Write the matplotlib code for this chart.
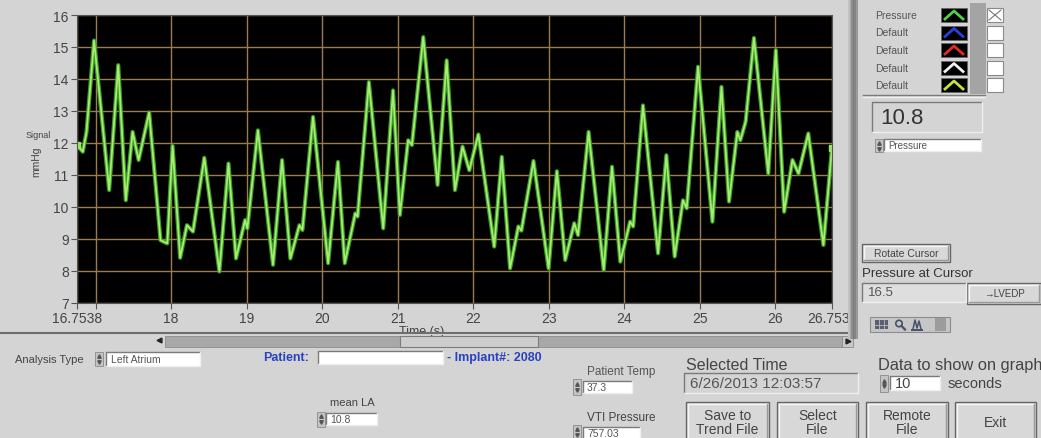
import matplotlib

matplotlib.use("Agg")
import matplotlib.pyplot as plt
from matplotlib.patches import Circle, Rectangle

plt.rcParams["font.family"] = ["Liberation Sans", "DejaVu Sans"]

# pressure trace (time in s, pressure in mmHg)
time_s = [
    16.754, 16.83, 16.88, 16.98, 17.18, 17.30, 17.40, 17.49, 17.57, 17.71,
    17.86, 17.95, 18.02, 18.12, 18.21, 18.29, 18.44, 18.64, 18.76, 18.86,
    18.98, 19.01, 19.15, 19.35, 19.47, 19.58, 19.70, 19.74, 19.88, 20.08,
    20.21, 20.30, 20.44, 20.47, 20.62, 20.81, 20.94, 21.03, 21.14, 21.19,
    21.34, 21.53, 21.65, 21.76, 21.86, 21.95, 22.07, 22.28, 22.38, 22.49,
    22.60, 22.64, 22.80, 23.00, 23.11, 23.22, 23.34, 23.39, 23.53, 23.73,
    23.84, 23.95, 24.08, 24.12, 24.25, 24.45, 24.56, 24.67, 24.78, 24.83,
    24.98, 25.17, 25.29, 25.39, 25.50, 25.54, 25.61, 25.72, 25.91, 26.01,
    26.12, 26.23, 26.31, 26.44, 26.64, 26.754,
]
pressure = [
    11.93, 11.72, 12.34, 15.20, 10.52, 14.43, 10.20, 12.34, 11.46, 12.95,
    8.95, 8.85, 11.90, 8.40, 9.42, 9.22, 11.53, 7.97, 11.35, 8.38,
    9.58, 9.32, 12.39, 8.18, 11.46, 8.38, 9.42, 9.27, 12.81, 8.23,
    11.40, 8.23, 9.79, 9.69, 13.90, 9.32, 13.64, 9.74, 12.08, 11.93,
    15.31, 10.68, 14.58, 10.52, 11.88, 11.14, 12.26, 8.75, 11.56, 8.07,
    9.38, 9.25, 11.43, 8.07, 11.11, 8.33, 9.48, 9.11, 12.34, 8.02,
    11.25, 8.28, 9.53, 9.38, 13.17, 8.54, 11.61, 8.44, 10.20, 9.95,
    14.38, 9.53, 13.75, 10.16, 12.34, 12.08, 12.66, 15.28, 11.04, 14.90,
    9.84, 11.46, 11.04, 12.29, 8.80, 11.85,
]
x_ticks = [16.7538, 17, 18, 19, 20, 21, 22, 23, 24, 25, 26, 26.7538]
x_tick_labels = ["16.7538", "", "18", "19", "20", "21", "22", "23", "24", "25", "26", "26.7538"]
y_ticks = [7, 8, 9, 10, 11, 12, 13, 14, 15, 16]

legend_names = ["Pressure", "Default", "Default", "Default", "Default"]
legend_colors = ["#4fd04a", "#2b3fe0", "#e02b2b", "#f2f2f2", "#c8e03a"]
button_labels = ["Save to\nTrend File", "Select\nFile", "Remote\nFile", "Exit"]

W, H = 1041, 439
BG = "#d4d4d4"
TXT = "#444444"


def frac(x0, y0, x1, y1):
    return [x0 / W, 1 - y1 / H, (x1 - x0) / W, (y1 - y0) / H]


fig = plt.figure(figsize=(W / 100, H / 100), dpi=100, facecolor=BG)

# ---- graph
ax = fig.add_axes(frac(77, 16, 832, 303.5), facecolor="black")
ax.set_zorder(1)
ax.plot(time_s, pressure, color="#3c9a2a", lw=3.0, solid_joinstyle="round")
ax.plot(time_s, pressure, color="#a6ee70", lw=1.3, solid_joinstyle="round")
ax.plot([time_s[0], time_s[-1]], [pressure[0], pressure[-1]], "s", ms=4, color="#9be860")
ax.set_xlim(16.7538, 26.7538)
ax.set_ylim(7, 16)
ax.set_xticks(x_ticks, x_tick_labels)
ax.set_yticks(y_ticks)
ax.grid(True, color="#9c7c4c", lw=1)
ax.set_axisbelow(True)
ax.tick_params(colors="#555555", labelcolor=TXT, labelsize=10, length=4, width=0.8, pad=2)
for spine in ax.spines.values():
    spine.set_color("#555555")

# ---- everything else is drawn in pixel coordinates on top
ov = fig.add_axes([0, 0, 1, 1])
ov.set_zorder(2)
ov.set_xlim(0, W)
ov.set_ylim(H, 0)
ov.axis("off")
ov.patch.set_alpha(0)


def rect(x0, y0, x1, y1, fc, ec="none", lw=0.8, z=3):
    ov.add_patch(Rectangle((x0, y0), x1 - x0, y1 - y0, fc=fc, ec=ec, lw=lw, zorder=z))


def sunken(x0, y0, x1, y1, fc="white"):
    rect(x0, y0, x1, y1, fc)
    ov.plot([x0, x0, x1], [y1, y0, y0], color="#7a7a7a", lw=1, zorder=4)
    ov.plot([x0, x1, x1], [y1, y1, y0], color="#efefef", lw=1, zorder=4)


def button(x0, y0, x1, y1, label, size):
    rect(x0, y0, x1, y1, "#d8d8d8", "#666666", 1)
    ov.plot([x0 + 2, x0 + 2, x1 - 2], [y1 - 2, y0 + 2, y0 + 2], color="#f6f6f6", lw=1, zorder=4)
    ov.plot([x0 + 2, x1 - 2, x1 - 2], [y1 - 2, y1 - 2, y0 + 2], color="#9a9a9a", lw=1, zorder=4)
    ov.text((x0 + x1) / 2, (y0 + y1) / 2, label, ha="center", va="center", fontsize=size,
            color=TXT, linespacing=1.0, zorder=5)


def spinner(x, y0, y1):
    rect(x, y0, x + 8, y1, "#c4c4c4", "#8a8a8a", 0.6)
    ym = (y0 + y1) / 2
    ov.plot(x + 4, ym - 3, "^", ms=2.5, color="#555555", zorder=5)
    ov.plot(x + 4, ym + 3, "v", ms=2.5, color="#555555", zorder=5)


# axis labels
ov.text(38, 136, "Signal", fontsize=6.5, color=TXT, ha="center", va="center")
ov.text(36, 162, "mmHg", fontsize=7.5, color=TXT, ha="center", va="center", rotation=90)
ov.text(422, 332, "Time (s)", fontsize=9, color=TXT, ha="center", va="center", zorder=2)

# separator line and scrollbar
rect(0, 333.5, 850, 336, BG)
ov.plot([0, 850], [334, 334], color="#6e6e6e", lw=1.5, zorder=4)
rect(165, 336.5, 845, 347.5, "#a8a8a8", "#8c8c8c", 0.6)
rect(400, 336.5, 538, 347.5, "#cdcdcd", "#7c7c7c", 0.8)
ov.plot(159, 341, "<", ms=3.5, color="#222222", zorder=5)
rect(842, 336.5, 853, 347.5, "#c8c8c8", "#8c8c8c", 0.6)
ov.plot(848, 342, ">", ms=3.5, color="#222222", zorder=6)

# vertical panel divider
for i, c in enumerate(["#c0c0c0", "#a8a8a8", "#8e8e8e", "#7c7c7c", "#848484", "#9a9a9a"]):
    rect(848 + i * 1.6, 0, 849.6 + i * 1.6, 340, c, z=5)

# plot legend
rect(970, 4, 986, 95, "#a4a4a4")
for i, (name, col) in enumerate(zip(legend_names, legend_colors)):
    y = 16 + i * 17.5
    ov.text(875, y, name, fontsize=7.5, color="#555555", va="center")
    rect(941, y - 7, 967, y + 7, "black", "#666666", 0.6)
    ov.plot([945, 954, 963], [y + 4, y - 4, y + 4], color=col, lw=2, zorder=4)
    rect(987, y - 7, 1003, y + 7, "white", "#8a8a8a", 0.8)
    if i == 0:
        ov.plot([989, 1001], [y - 5, y + 5], color="#777777", lw=0.8, zorder=5)
        ov.plot([989, 1001], [y + 5, y - 5], color="#777777", lw=0.8, zorder=5)
ov.plot([863, 985], [96, 96], color="#7a7a7a", lw=1)
ov.plot([863, 985], [97.5, 97.5], color="#f0f0f0", lw=1)

# value readout
sunken(872, 103, 982, 133, BG)
ov.text(880, 119, "10.8", fontsize=16, color="#333333", va="center", zorder=5)
spinner(875, 140, 153)
sunken(884, 140, 981, 152)
ov.text(888, 146, "Pressure", fontsize=7, color="#555555", va="center", zorder=5)

# cursor controls
button(862, 245, 950, 263, "Rotate Cursor", 7.5)
ov.text(862, 274, "Pressure at Cursor", fontsize=9.5, color="#333333", va="center")
sunken(862, 284, 966, 303, "#dedede")
ov.text(868, 293, "16.5", fontsize=9.5, color="#555555", va="center", zorder=5)
button(967, 284, 1041, 305, "\u2192LVEDP", 7)

# graph palette (grid, zoom and pan icons)
rect(870, 318, 950, 333, "#c6c6c6", "#8c8c8c", 0.8)
rect(875, 321, 888, 330, "#5a6070")
for gx in (879, 883.5):
    ov.plot([gx, gx], [321, 330], color="#b8bcc8", lw=0.6, zorder=4)
ov.plot([875, 888], [325.5, 325.5], color="#b8bcc8", lw=0.6, zorder=4)
ov.add_patch(Circle((899, 324.5), 3.2, fc="none", ec="#46506a", lw=1.2, zorder=4))
ov.plot([901.5, 905], [327, 330.5], color="#46506a", lw=1.6, zorder=4)
ov.plot([913, 915, 917, 919, 921], [330, 321, 329, 322, 330], color="#46506a", lw=1.1, zorder=4)
ov.plot([912, 922], [330.5, 330.5], color="#46506a", lw=1.4, zorder=4)
rect(935, 319, 946, 332, "#9c9c9c")

# bottom controls
ov.text(15, 360, "Analysis Type", fontsize=8, color=TXT, va="center")
spinner(95, 353, 367)
sunken(106, 353, 200, 367)
ov.text(111, 360, "Left Atrium", fontsize=7.5, color="#555555", va="center", zorder=5)

ov.text(263, 358, "Patient:", fontsize=9, color="#2a42c0", weight="bold", va="center")
sunken(318, 352, 443, 365)
ov.text(447, 358, "- Implant#: 2080", fontsize=9, color="#2a42c0", weight="bold", va="center")

ov.text(352, 403, "mean LA", fontsize=8, color=TXT, ha="center", va="center")
spinner(317, 413, 428)
sunken(326, 414, 377, 426)
ov.text(330, 420, "10.8", fontsize=7.5, color="#555555", va="center", zorder=5)

ov.text(621, 372, "Patient Temp", fontsize=8.5, color="#555555", ha="center", va="center")
spinner(573, 380, 396)
sunken(583, 382, 632, 394)
ov.text(587, 388, "37.3", fontsize=7.5, color="#555555", va="center", zorder=5)

ov.text(621, 418, "VTI Pressure", fontsize=8.5, color=TXT, ha="center", va="center")
spinner(573, 426, 440)
sunken(583, 428, 640, 440)
ov.text(587, 434, "757.03", fontsize=7.5, color="#555555", va="center", zorder=5)

ov.text(686, 366, "Selected Time", fontsize=11.5, color=TXT, va="center")
sunken(684, 374, 858, 394, BG)
ov.text(690, 384, "6/26/2013 12:03:57", fontsize=11, color="#555555", va="center", zorder=5)

ov.text(878, 366, "Data to show on graph", fontsize=11.8, color=TXT, va="center")
spinner(880, 376, 393)
sunken(890, 377, 940, 391)
ov.text(895, 384, "10", fontsize=10.5, color="#444444", va="center", zorder=5)
ov.text(948, 384, "seconds", fontsize=10.5, color=TXT, va="center")

for (x0, x1), label in zip([(686, 769), (777, 858), (866, 948), (955, 1036)], button_labels):
    button(x0, 403, x1, 443, label, 10)

fig.savefig("out.png", dpi=100, facecolor=fig.get_facecolor())
plt.close(fig)
